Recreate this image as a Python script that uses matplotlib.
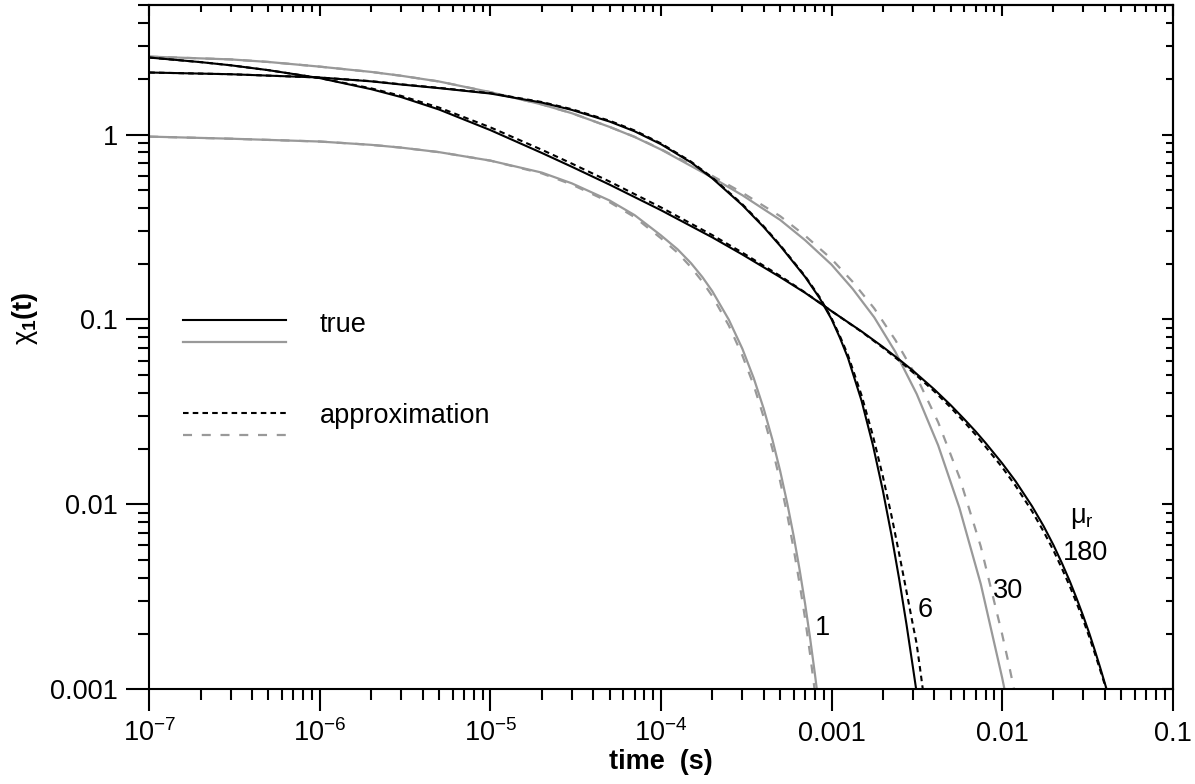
import matplotlib
matplotlib.use("Agg")
import matplotlib.pyplot as plt
from matplotlib.ticker import NullFormatter, LogLocator

plt.rcParams["font.family"] = ["Liberation Sans", "DejaVu Sans"]
plt.rcParams["mathtext.fontset"] = "custom"
plt.rcParams["mathtext.rm"] = "Liberation Sans"
plt.rcParams["mathtext.it"] = "Liberation Sans"
plt.rcParams["mathtext.bf"] = "Liberation Sans:bold"
plt.rcParams["lines.scale_dashes"] = False

# ── data (time in s, chi_1(t)) ──────────────────────────────────────────────
# mu_r = 1
t_1_true = [1e-7, 3e-7, 1e-6, 2e-6, 3e-6, 5e-6, 1e-5, 2e-5, 3e-5, 5e-5, 7e-5, 1e-4, 1.25e-4,
            1.5e-4, 1.75e-4, 2e-4, 2.5e-4, 3e-4, 3.5e-4, 4e-4, 4.5e-4, 5e-4, 5.5e-4, 6e-4,
            6.5e-4, 7e-4, 7.5e-4, 8e-4, 8.2e-4]
chi_1_true = [0.975, 0.95, 0.917, 0.88, 0.85, 0.8035, 0.723, 0.623, 0.545, 0.44, 0.367, 0.285,
              0.2399, 0.2017, 0.1695, 0.1422, 0.0997, 0.0695, 0.0481, 0.033, 0.02244, 0.01515,
              0.01014, 0.00674, 0.00443, 0.0029, 0.00187, 0.0012, 0.001]
t_1_appr = [1e-7, 3e-7, 1e-6, 2e-6, 3e-6, 5e-6, 1e-5, 2e-5, 3e-5, 5e-5, 7e-5, 1e-4, 1.25e-4,
            1.5e-4, 1.75e-4, 2e-4, 2.5e-4, 3e-4, 3.5e-4, 4e-4, 4.5e-4, 5e-4, 5.5e-4, 6e-4,
            6.5e-4, 7e-4, 7.5e-4, 8e-4]
chi_1_appr = [0.975, 0.95, 0.917, 0.88, 0.85, 0.8035, 0.723, 0.617, 0.537, 0.431, 0.358, 0.275,
              0.230, 0.1916, 0.1602, 0.1337, 0.0927, 0.0639, 0.0440, 0.0297, 0.0200, 0.01333,
              0.00882, 0.00573, 0.00372, 0.00241, 0.00153, 0.00096]

# mu_r = 6
t_6_true = [1e-7, 3e-7, 1e-6, 2e-6, 3e-6, 5e-6, 1e-5, 2e-5, 3e-5, 5e-5, 7e-5, 1e-4, 1.5e-4, 2e-4,
            3e-4, 4e-4, 5e-4, 7e-4, 8.5e-4, 1e-3, 1.12e-3, 1.25e-3, 1.5e-3, 1.75e-3, 2e-3,
            2.25e-3, 2.5e-3, 2.75e-3, 3e-3, 3.15e-3]
chi_6_true = [2.166, 2.12, 2.035, 1.94, 1.865, 1.783, 1.667, 1.49, 1.36, 1.176, 1.042, 0.887,
              0.707, 0.580, 0.4155, 0.3163, 0.2502, 0.170, 0.1308, 0.1004, 0.0796, 0.0618,
              0.03634, 0.02085, 0.01188, 0.00677, 0.00388, 0.00225, 0.001317, 0.00097]
t_6_appr = [1e-7, 3e-7, 1e-6, 2e-6, 3e-6, 5e-6, 1e-5, 2e-5, 3e-5, 5e-5, 7e-5, 1e-4, 1.5e-4, 2e-4,
            3e-4, 4e-4, 5e-4, 7e-4, 8.5e-4, 1e-3, 1.12e-3, 1.25e-3, 1.5e-3, 1.75e-3, 2e-3,
            2.25e-3, 2.5e-3, 2.75e-3, 3e-3, 3.15e-3, 3.3e-3, 3.45e-3]
chi_6_appr = [2.166, 2.12, 2.035, 1.945, 1.87, 1.79, 1.675, 1.5, 1.372, 1.188, 1.053, 0.896,
              0.714, 0.586, 0.420, 0.3195, 0.2527, 0.1717, 0.1325, 0.1017, 0.0813, 0.0640,
              0.0389, 0.02345, 0.01417, 0.00864, 0.00533, 0.00339, 0.00223, 0.00178, 0.001306,
              0.00096]

# mu_r = 30
t_30_true = [1e-7, 3e-7, 5e-7, 1e-6, 2e-6, 3e-6, 5e-6, 1e-5, 2e-5, 3e-5, 5e-5, 7e-5, 1e-4, 2e-4,
             3e-4, 5e-4, 7e-4, 1e-3, 1.33e-3, 1.78e-3, 2.37e-3, 3.16e-3, 4.22e-3, 5.62e-3,
             7.5e-3, 1e-2, 1.05e-2]
chi_30_true = [2.64, 2.55, 2.47, 2.33, 2.182, 2.08, 1.937, 1.696, 1.456, 1.305, 1.10, 0.971, 0.83,
               0.585, 0.47, 0.3455, 0.2684, 0.198, 0.1465, 0.1027, 0.0667, 0.0395, 0.02085,
               0.00958, 0.00371, 0.001159, 0.00093]
t_30_appr = [1e-7, 3e-7, 5e-7, 1e-6, 2e-6, 3e-6, 5e-6, 1e-5, 2e-5, 3e-5, 5e-5, 7e-5, 1e-4, 2e-4,
             3e-4, 5e-4, 7e-4, 1e-3, 1.33e-3, 1.78e-3, 2.37e-3, 3.16e-3, 4.22e-3, 5.62e-3,
             7.5e-3, 1e-2, 1.1e-2, 1.2e-2]
chi_30_appr = [2.64, 2.55, 2.47, 2.33, 2.182, 2.08, 1.937, 1.696, 1.456, 1.305, 1.10, 0.973,
               0.834, 0.598, 0.485, 0.362, 0.284, 0.2125, 0.160, 0.1148, 0.0773, 0.0487, 0.0278,
               0.01403, 0.00592, 0.00199, 0.00134, 0.000912]

# mu_r = 180
t_180_true = [1e-7, 2e-7, 3e-7, 5e-7, 1e-6, 2e-6, 3e-6, 5e-6, 1e-5, 2e-5, 3e-5, 5e-5, 1e-4, 2e-4,
              3e-4, 5e-4, 7e-4, 1e-3, 1.5e-3, 2e-3, 2.5e-3, 3e-3, 4e-3, 5e-3, 6e-3, 7e-3, 8e-3,
              1e-2, 1.2e-2, 1.5e-2, 1.75e-2, 2e-2, 2.25e-2, 2.5e-2, 2.75e-2, 3e-2, 3.25e-2,
              3.5e-2, 3.75e-2, 4e-2, 4.1e-2]
chi_180_true = [2.61, 2.465, 2.37, 2.23, 2.02, 1.76, 1.595, 1.366, 1.057, 0.796, 0.670, 0.536, 0.390,
                0.278, 0.2246, 0.1694, 0.1394, 0.111, 0.0862, 0.0711, 0.0606, 0.0529, 0.0419,
                0.0344, 0.0289, 0.0248, 0.0215, 0.0167, 0.01334, 0.00976, 0.00764, 0.00603,
                0.00478, 0.00382, 0.00306, 0.00247, 0.0020, 0.00162, 0.00132, 0.00108, 0.001]
t_180_appr = [1e-7, 2e-7, 3e-7, 5e-7, 1e-6, 2e-6, 3e-6, 5e-6, 1e-5, 2e-5, 3e-5, 5e-5, 1e-4, 2e-4,
              3e-4, 5e-4, 7e-4, 1e-3, 1.5e-3, 2e-3, 2.5e-3, 3e-3, 4e-3, 5e-3, 6e-3, 7e-3, 8e-3,
              1e-2, 1.2e-2, 1.5e-2, 1.75e-2, 2e-2, 2.25e-2, 2.5e-2, 2.75e-2, 3e-2, 3.25e-2,
              3.5e-2, 3.75e-2, 4e-2, 4.1e-2]
chi_180_appr = [2.61, 2.465, 2.37, 2.23, 2.02, 1.778, 1.619, 1.400, 1.094, 0.828, 0.697, 0.557,
                0.404, 0.286, 0.230, 0.172, 0.140, 0.111, 0.0858, 0.0704, 0.0597, 0.0518, 0.0409,
                0.0334, 0.0279, 0.0238, 0.0205, 0.0159, 0.0126, 0.00917, 0.00714, 0.00564,
                0.00447, 0.00359, 0.00289, 0.00235, 0.00191, 0.00156, 0.00128, 0.00106, 0.00098]

# curve labels: text, time, chi (baseline)
curve_labels = ["1", "6", "30", "180"]
label_t = [8.85e-4, 3.53e-3, 1.08e-2, 3.078e-2]
label_chi = [0.00197, 0.00247, 0.00311, 0.00501]

x_ticks = [1e-7, 1e-6, 1e-5, 1e-4, 1e-3, 1e-2, 1e-1]
x_ticklabels = [r"$10^{-7}$", r"$10^{-6}$", r"$10^{-5}$", r"$10^{-4}$", "0.001", "0.01", "0.1"]
y_ticks = [1e-3, 1e-2, 1e-1, 1]
y_ticklabels = ["0.001", "0.01", "0.1", "1"]

BLACK = "black"
GRAY = "#999999"
DOT = (0, (4.0, 3.0))
DASH = (0, (6.5, 7.0))
FS = 19.5

fig = plt.figure(figsize=(11.95, 7.84), dpi=100)
ax = fig.add_axes([0.1249, 0.1208, 0.8564, 0.8724])
ax.set_xscale("log")
ax.set_yscale("log")

ax.plot(t_1_true, chi_1_true, color=GRAY, lw=1.6)
ax.plot(t_30_true, chi_30_true, color=GRAY, lw=1.6)
ax.plot(t_1_appr, chi_1_appr, color=GRAY, lw=1.6, linestyle=DASH)
ax.plot(t_30_appr, chi_30_appr, color=GRAY, lw=1.6, linestyle=DASH)
ax.plot(t_6_true, chi_6_true, color=BLACK, lw=1.5)
ax.plot(t_180_true, chi_180_true, color=BLACK, lw=1.5)
ax.plot(t_6_appr, chi_6_appr, color=BLACK, lw=1.5, linestyle=DOT)
ax.plot(t_180_appr, chi_180_appr, color=BLACK, lw=1.5, linestyle=DOT)

ax.set_xlim(1e-7, 0.1)
ax.set_ylim(1e-3, 5)

# legend drawn by hand (two line styles per entry)
tr = ax.transAxes
ax.plot([0.033, 0.134], [0.540, 0.540], color=BLACK, lw=1.5, transform=tr)
ax.plot([0.033, 0.134], [0.508, 0.508], color=GRAY, lw=1.6, transform=tr)
ax.plot([0.033, 0.134], [0.404, 0.404], color=BLACK, lw=1.5, linestyle=DOT, transform=tr)
ax.plot([0.033, 0.134], [0.372, 0.372], color=GRAY, lw=1.6, linestyle=DASH, transform=tr)
ax.text(0.1667, 0.5228, "true", transform=tr, fontsize=FS, va="baseline")
ax.text(0.1667, 0.3896, "approximation", transform=tr, fontsize=FS, va="baseline")

for txt, t, c in zip(curve_labels, label_t, label_chi):
    ax.text(t, c, txt, fontsize=FS, ha="center", va="baseline")
ax.text(0.025, 0.00795, r"$\mu_r$", fontsize=FS, ha="left", va="baseline")

# ticks: outward on bottom/left, inward on top/right
ax.set_xticks(x_ticks, labels=x_ticklabels, va="baseline")
ax.set_yticks(y_ticks, labels=y_ticklabels)
ax.xaxis.set_minor_locator(LogLocator(base=10, subs=range(2, 10), numticks=50))
ax.yaxis.set_minor_locator(LogLocator(base=10, subs=range(2, 10), numticks=50))
ax.xaxis.set_minor_formatter(NullFormatter())
ax.yaxis.set_minor_formatter(NullFormatter())
ax.tick_params(axis="x", which="major", direction="out", length=15.8, width=1.5, pad=21.6, labelsize=FS)
ax.tick_params(axis="y", which="major", direction="out", length=16.5, width=1.5, pad=6, labelsize=FS)
ax.tick_params(which="minor", direction="out", length=8, width=1.5)

sx = ax.secondary_xaxis("top")
sx.xaxis.set_minor_locator(LogLocator(base=10, subs=range(2, 10), numticks=50))
sx.xaxis.set_major_formatter(NullFormatter())
sx.xaxis.set_minor_formatter(NullFormatter())
sx.tick_params(which="major", direction="in", length=8, width=1.5)
sx.tick_params(which="minor", direction="in", length=5, width=1.5)
sy = ax.secondary_yaxis("right")
sy.yaxis.set_minor_locator(LogLocator(base=10, subs=range(2, 10), numticks=50))
sy.yaxis.set_major_formatter(NullFormatter())
sy.yaxis.set_minor_formatter(NullFormatter())
sy.tick_params(which="major", direction="in", length=8, width=1.5)
sy.tick_params(which="minor", direction="in", length=5, width=1.5)

for a in (ax, sx, sy):
    for s in a.spines.values():
        s.set_linewidth(1.5)

ax.set_xlabel("time  (s)", fontsize=FS, fontweight="bold")
ax.xaxis.set_label_coords(0.5, -0.088)
ax.set_ylabel(r"$\chi_\mathbf{1}\mathbf{(t)}$", fontsize=FS)
ax.yaxis.set_label_coords(-0.107, 0.543)

fig.savefig("out.png", dpi=100)
